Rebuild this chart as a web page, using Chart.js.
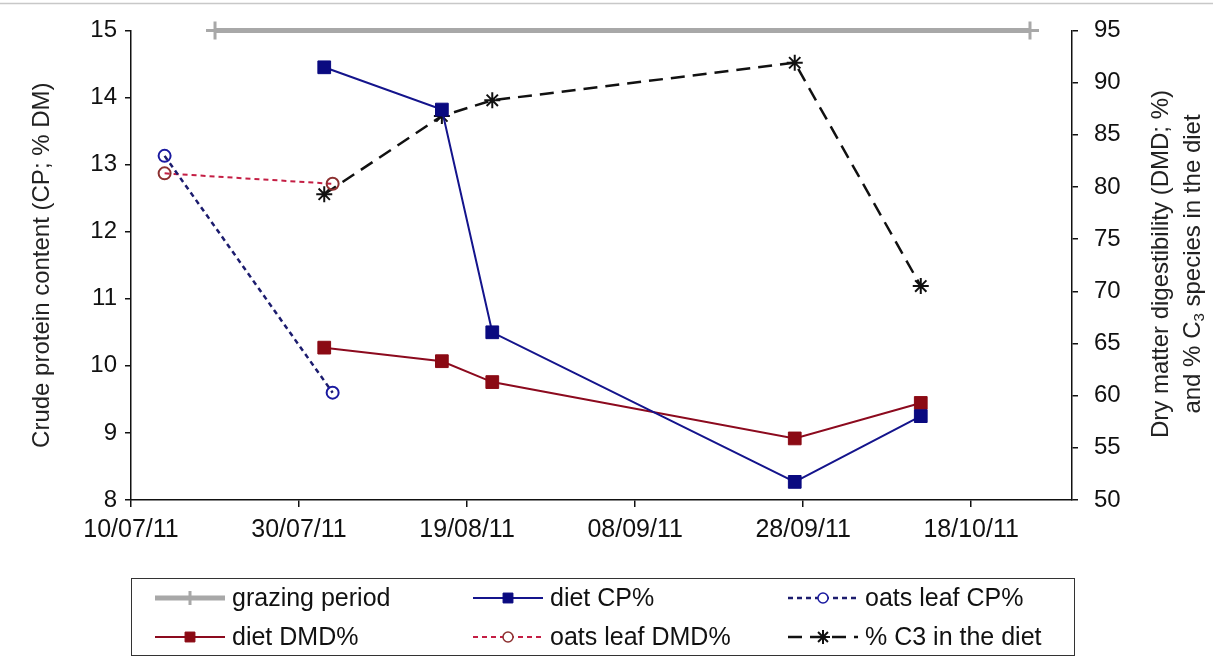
<!DOCTYPE html>
<html>
<head>
<meta charset="utf-8">
<script src="https://cdn.jsdelivr.net/npm/chart.js@4/dist/chart.umd.min.js"></script>
<style>
  html, body { margin: 0; padding: 0; background: #fff; }
  #wrap { width: 1213px; height: 657px; position: relative; }
</style>
</head>
<body>
<div id="wrap"><canvas id="chart"></canvas></div>
<script>
// dates are dd/mm/yy, x axis counts days from the first tick
const startDate = '10/07/11';
const xTickLabels = ['10/07/11', '30/07/11', '19/08/11', '08/09/11', '28/09/11', '18/10/11'];
const xEndDate = '30/10/11';

const grazingDates = ['20/07/11', '25/10/11'];
const grazingValues = [15, 15];

const dietDates = ['02/08/11', '16/08/11', '22/08/11', '27/09/11', '12/10/11'];
const dietCP = [14.45, 13.82, 10.5, 8.27, 9.25];
const dietDMD = [64.6, 63.3, 61.3, 55.9, 59.3];

const oatsDates = ['14/07/11', '03/08/11'];
const oatsCP = [13.13, 9.6];
const oatsDMD = [81.3, 80.3];

const c3Values = [79.3, 86.8, 88.3, 91.9, 70.5];

const leftTicks = { min: 8, max: 15, step: 1 };
const rightTicks = { min: 50, max: 95, step: 5 };

const FONT = 'Liberation Sans, Arial, sans-serif';

function dayOf(s) {
    const p = s.split('/');
    const t = Date.UTC(2000 + +p[2], +p[1] - 1, +p[0]);
    const q = startDate.split('/');
    const t0 = Date.UTC(2000 + +q[2], +q[1] - 1, +q[0]);
    return Math.round((t - t0) / 86400000);
}

function pts(dates, values) {
    return dates.map((d, i) => ({ x: dayOf(d), y: values[i] }));
}

// legend drawn under the plot, two rows of three
const legendBox = {
    id: 'legendBox',
    afterDraw(chart) {
        const ctx = chart.ctx;
        ctx.save();
        // thin rule along the top of the picture
        ctx.strokeStyle = '#c8c8c8';
        ctx.lineWidth = 1.5;
        ctx.beginPath();
        ctx.moveTo(0, 3.5);
        ctx.lineTo(1213, 3.5);
        ctx.stroke();

        ctx.strokeStyle = '#333';
        ctx.lineWidth = 1;
        ctx.strokeRect(131.5, 578.5, 943, 77);

        const cols = [155, 473, 788];
        const rows = [598, 637];
        chart.data.datasets.forEach((ds, i) => {
            const x = cols[i % 3];
            const y = rows[Math.floor(i / 3)];
            ctx.save();
            ctx.strokeStyle = ds.borderColor;
            ctx.lineWidth = ds.borderWidth;
            ctx.setLineDash(ds.borderDash || []);
            ctx.beginPath();
            ctx.moveTo(x, y);
            ctx.lineTo(x + 70, y);
            ctx.stroke();
            ctx.setLineDash([]);
            ctx.fillStyle = ds.pointBackgroundColor || '#fff';
            ctx.strokeStyle = ds.pointBorderColor;
            if (ds.pointStyle === 'circle') {
                ctx.fillStyle = '#fff';
            }
            ctx.lineWidth = ds.pointStyle === 'circle' ? 1.5 : ds.pointBorderWidth;
            Chart.helpers.drawPoint(ctx, {
                pointStyle: ds.pointStyle,
                radius: ds.pointStyle === 'rect' ? 7 : (ds.pointStyle === 'circle' ? 5 : 7),
                borderWidth: ds.pointStyle === 'circle' ? 1.5 : ds.pointBorderWidth,
                rotation: 0
            }, x + 35, y);
            ctx.restore();
            ctx.fillStyle = '#111';
            ctx.font = '25px ' + FONT;
            ctx.textBaseline = 'middle';
            ctx.textAlign = 'left';
            ctx.fillText(ds.label, x + 77, y + 1);
        });

        // right axis title, read bottom to top, with subscript 3
        ctx.fillStyle = '#222';
        ctx.translate(1161, 264);
        ctx.rotate(-Math.PI / 2);
        ctx.textAlign = 'center';
        ctx.textBaseline = 'middle';
        ctx.font = '24px ' + FONT;
        ctx.fillText('Dry matter digestibility (DMD; %)', 0, 0);
        const a = 'and % C', b = ' species in the diet';
        const wa = ctx.measureText(a).width, wb = ctx.measureText(b).width;
        ctx.font = '15px ' + FONT;
        const ws = ctx.measureText('3').width;
        const sx = -(wa + ws + wb) / 2;
        ctx.textAlign = 'left';
        ctx.font = '24px ' + FONT;
        ctx.fillText(a, sx, 32);
        ctx.font = '15px ' + FONT;
        ctx.fillText('3', sx + wa, 39);
        ctx.font = '24px ' + FONT;
        ctx.fillText(b, sx + wa + ws, 32);
        ctx.restore();
    }
};

const navy = '#14148c';
const navyMark = '#0a0a80';
const darkRed = '#8c0a1e';
const redMark = '#8b0a14';

new Chart(document.getElementById('chart'), {
    type: 'line',
    data: {
        datasets: [
            {
                label: 'grazing period',
                data: pts(grazingDates, grazingValues),
                yAxisID: 'y',
                borderColor: '#a8a8a8',
                backgroundColor: '#a8a8a8',
                borderWidth: 5,
                pointStyle: 'cross',
                pointRadius: 9,
                pointBorderWidth: 3,
                pointBackgroundColor: '#a8a8a8',
                pointBorderColor: '#a8a8a8',
                clip: false,
                order: 6
            },
            {
                label: 'diet CP%',
                data: pts(dietDates, dietCP),
                yAxisID: 'y',
                borderColor: navy,
                backgroundColor: navyMark,
                borderWidth: 2,
                pointStyle: 'rect',
                pointRadius: 9,
                pointBorderWidth: 1,
                pointBackgroundColor: navyMark,
                pointBorderColor: navyMark,
                order: 1
            },
            {
                label: 'oats leaf CP%',
                data: pts(oatsDates, oatsCP),
                yAxisID: 'y',
                borderColor: '#1c1c6e',
                backgroundColor: '#fff',
                borderWidth: 2.5,
                borderDash: [5, 4],
                pointStyle: 'circle',
                pointRadius: 6,
                pointBorderWidth: 2,
                pointBackgroundColor: 'rgba(255,255,255,0)',
                pointBorderColor: '#1a1aa0',
                order: 3
            },
            {
                label: 'diet DMD%',
                data: pts(dietDates, dietDMD),
                yAxisID: 'y2',
                borderColor: darkRed,
                backgroundColor: redMark,
                borderWidth: 2,
                pointStyle: 'rect',
                pointRadius: 9,
                pointBorderWidth: 1,
                pointBackgroundColor: redMark,
                pointBorderColor: redMark,
                order: 2
            },
            {
                label: 'oats leaf DMD%',
                data: pts(oatsDates, oatsDMD),
                yAxisID: 'y2',
                borderColor: '#c41e44',
                backgroundColor: '#fff',
                borderWidth: 2,
                borderDash: [5, 4],
                pointStyle: 'circle',
                pointRadius: 6,
                pointBorderWidth: 2,
                pointBackgroundColor: 'rgba(255,255,255,0)',
                pointBorderColor: '#8c3030',
                order: 4
            },
            {
                label: '% C3 in the diet',
                data: pts(dietDates, c3Values),
                yAxisID: 'y2',
                borderColor: '#111',
                backgroundColor: '#111',
                borderWidth: 2.5,
                borderDash: [14, 8],
                pointStyle: 'star',
                pointRadius: 8,
                pointBorderWidth: 2,
                pointBorderColor: '#111',
                order: 5
            }
        ]
    },
    options: {
        responsive: true,
        maintainAspectRatio: false,
        animation: false,
        layout: { padding: { top: 29, left: 0, right: 0, bottom: 0 } },
        plugins: {
            legend: { display: false },
            tooltip: { enabled: false }
        },
        elements: { line: { tension: 0 } },
        scales: {
            x: {
                type: 'linear',
                min: 0,
                max: dayOf(xEndDate),
                afterBuildTicks: s => { s.ticks = xTickLabels.map(l => ({ value: dayOf(l) })); },
                afterFit: s => { s.height = 157; },
                ticks: {
                    autoSkip: false,
                    maxRotation: 0,
                    padding: 8,
                    color: '#111',
                    font: { family: FONT, size: 25 },
                    callback: v => xTickLabels.find(l => dayOf(l) === v) || ''
                },
                grid: { display: true, drawOnChartArea: false, tickLength: 7, color: '#111', lineWidth: 1.5 },
                border: { display: true, color: '#111', width: 1.5 }
            },
            y: {
                position: 'left',
                min: leftTicks.min,
                max: leftTicks.max,
                afterFit: s => { s.width = 131; },
                ticks: {
                    stepSize: leftTicks.step,
                    padding: 8,
                    color: '#111',
                    font: { family: FONT, size: 24 }
                },
                grid: { display: true, drawOnChartArea: false, tickLength: 6, color: '#111', lineWidth: 1.5 },
                border: { display: true, color: '#111', width: 1.5 },
                title: {
                    display: true,
                    text: 'Crude protein content (CP; % DM)',
                    color: '#222',
                    font: { family: FONT, size: 24 },
                    padding: { top: 28, bottom: 0 }
                }
            },
            y2: {
                position: 'right',
                min: rightTicks.min,
                max: rightTicks.max,
                afterFit: s => { s.width = 141; },
                ticks: {
                    stepSize: rightTicks.step,
                    padding: 16,
                    color: '#111',
                    font: { family: FONT, size: 24 }
                },
                grid: { display: true, drawOnChartArea: false, tickLength: 6, color: '#111', lineWidth: 1.5 },
                border: { display: true, color: '#111', width: 1.5 }
            }
        }
    },
    plugins: [legendBox]
});
</script>
</body>
</html>
